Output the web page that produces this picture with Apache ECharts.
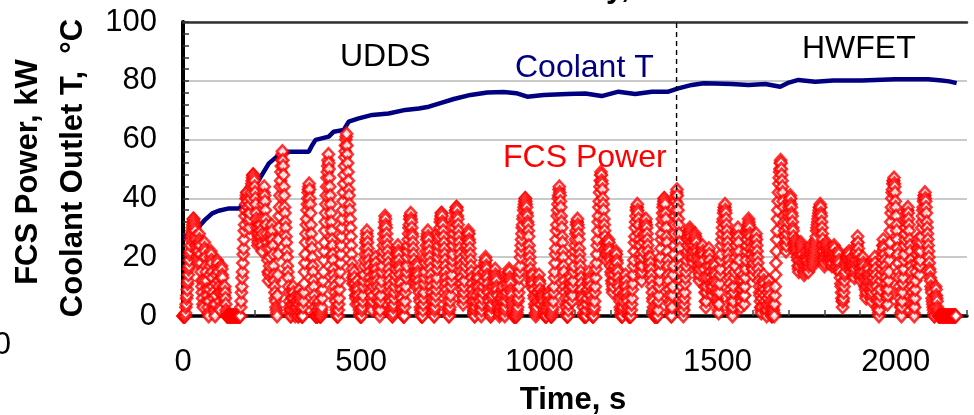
<!DOCTYPE html>
<html>
<head>
<meta charset="utf-8">
<title>FCS Power and Coolant Outlet Temperature</title>
<script src="https://cdn.jsdelivr.net/npm/echarts@6/dist/echarts.min.js"></script>
<style>
  html, body { margin: 0; padding: 0; background: #ffffff; }
  #chart { width: 974px; height: 415px; }
</style>
</head>
<body>
<div id="chart"></div>
<script>
// Fuel-cell system power (kW), one sample per second from t = 0 (60 s per row)
const powerStepSeconds = 1;
const powerKW = [
  0,0,0,0,0,0,0,1,3,4,6,7,9,11,12,14,16,17,19,21,22,24,26,27,28,29,30,31,32,33,33,32,31,30,29,27,26,24,23,22,20,19,18,22,25,28,26,25,24,21,18,15,12,10,8,6,4,3,12,20,
  25,23,22,20,17,15,12,9,7,5,3,1,0,5,9,14,17,20,22,21,19,18,15,13,10,8,6,4,2,1,0,4,7,11,14,17,19,18,16,15,12,10,8,5,3,2,8,13,17,16,14,13,10,8,6,7,9,10,8,6,
  4,2,1,0,0,0,0,0,0,0,0,0,0,0,0,0,0,0,0,0,0,0,0,0,0,0,0,0,0,0,0,0,0,0,0,0,0,0,0,0,0,0,3,5,8,10,13,15,18,21,23,26,29,31,34,36,38,40,41,42,
  42,40,39,37,35,32,30,33,35,38,40,42,44,45,46,47,48,48,48,47,46,44,42,40,38,35,33,30,28,26,24,25,27,28,30,31,33,31,29,27,25,24,22,28,33,38,40,42,44,41,39,36,33,31,28,26,25,23,19,15,
  12,14,15,17,20,23,26,28,30,31,29,26,24,21,17,14,12,10,8,6,5,3,2,1,0,7,14,21,26,30,34,37,41,44,46,49,51,53,55,56,53,51,48,44,41,37,35,32,30,27,25,22,20,17,15,13,10,8,5,3,
  2,1,0,0,2,4,6,8,9,10,8,6,4,2,1,0,3,5,7,5,4,3,1,0,0,4,7,9,7,6,5,3,1,0,0,0,0,3,5,8,11,15,18,21,25,28,31,33,36,38,40,42,43,44,45,43,40,38,35,31,
  28,25,23,20,17,15,12,10,7,5,3,1,0,0,0,0,0,0,0,2,4,5,3,1,0,0,0,0,1,2,3,6,9,12,15,19,22,25,29,32,35,38,41,44,47,49,51,53,55,52,50,47,44,41,38,35,32,29,26,24,
  21,19,16,14,12,10,8,6,5,3,2,1,0,0,0,0,2,4,6,9,12,15,18,21,24,27,30,33,36,39,42,45,48,51,54,56,58,60,61,62,58,55,52,49,46,43,41,38,36,33,30,27,24,21,18,16,13,11,12,14,
  15,13,11,9,7,6,4,7,9,12,10,9,7,5,4,2,1,0,0,0,0,0,2,3,5,7,10,12,14,17,19,21,23,25,26,28,29,27,25,23,21,19,17,15,13,11,9,8,6,4,3,2,5,7,10,12,14,16,17,19,
  20,18,16,14,12,10,8,6,5,3,2,1,0,2,5,7,10,12,15,17,20,22,24,26,28,30,32,34,33,31,30,28,26,24,22,20,18,16,14,12,10,8,6,5,3,2,1,0,0,1,3,4,6,8,10,12,14,16,18,19,
  21,22,23,24,22,21,19,17,16,14,12,11,9,7,6,4,3,1,0,0,0,0,3,5,8,10,13,15,17,20,22,24,26,28,30,31,33,34,34,35,33,32,30,28,27,25,23,21,19,17,15,13,12,11,10,13,15,18,17,15,
  14,12,10,8,6,5,3,2,1,0,0,0,0,2,4,6,8,11,13,15,18,20,22,24,26,27,28,29,27,26,24,22,20,18,16,14,12,10,8,6,5,3,2,1,0,0,2,3,5,7,9,11,13,16,18,20,22,24,26,27,
  29,30,32,33,34,35,35,34,32,31,29,27,25,23,21,19,17,15,13,11,9,7,5,3,2,1,0,0,2,3,5,7,10,12,14,17,19,21,24,26,28,30,32,33,35,36,36,37,37,36,34,33,31,29,27,25,23,21,19,17,
  15,13,11,9,7,5,4,6,8,10,12,15,17,19,21,23,24,26,27,28,28,29,28,26,25,23,21,19,17,15,13,11,9,7,5,3,2,1,0,0,2,3,5,7,10,12,13,14,15,13,10,8,6,5,3,2,1,0,2,4,
  6,8,10,12,14,15,17,18,19,20,19,17,16,14,13,11,9,8,6,5,3,2,1,0,0,1,3,4,6,7,9,10,12,13,14,15,16,14,13,12,10,9,7,5,4,3,2,1,0,1,1,2,3,5,6,8,9,10,7,5,
  3,2,1,0,2,3,5,7,8,10,11,13,14,15,15,16,15,13,12,11,9,8,7,5,4,3,2,1,0,0,0,0,0,0,0,0,0,1,2,3,5,6,8,10,13,15,17,20,22,24,26,28,30,31,33,34,36,37,38,39,
  40,40,39,38,37,35,34,32,31,29,27,24,22,20,18,16,14,12,10,11,13,14,12,11,9,7,6,4,3,1,0,1,2,3,5,6,8,10,12,14,12,11,9,7,6,4,6,7,8,7,7,6,5,3,2,1,0,0,0,0,
  0,2,3,5,6,7,8,7,5,4,3,1,0,0,0,0,1,2,3,5,8,10,13,15,18,21,23,26,29,31,34,36,38,40,41,43,44,42,41,39,37,34,32,30,27,25,22,20,17,15,12,10,8,6,4,3,1,0,0,0,
  0,2,4,6,9,11,14,13,11,10,8,7,5,7,10,12,15,17,20,22,24,26,28,29,31,32,32,33,31,30,28,26,23,21,19,17,15,13,11,9,7,6,4,3,1,0,0,0,0,0,0,0,2,4,6,8,9,11,12,14,
  15,13,12,10,8,7,5,3,1,0,0,0,0,2,3,5,8,10,13,16,18,21,24,26,29,32,34,37,39,42,44,46,48,49,48,46,45,43,40,38,36,33,31,29,27,25,23,21,19,21,22,24,25,25,26,25,23,22,20,19,
  17,15,14,12,11,9,8,10,12,14,16,17,19,20,21,22,21,19,18,16,15,13,11,10,8,6,5,3,2,1,0,0,0,0,2,3,5,7,8,10,11,13,14,12,10,8,6,5,3,2,1,0,0,0,0,0,0,0,2,4,
  6,9,11,14,17,19,22,25,27,30,32,34,36,37,37,38,36,35,33,31,28,26,24,21,19,17,14,12,15,17,20,22,25,27,28,30,31,32,32,33,31,30,28,26,24,22,20,18,16,17,19,20,18,16,14,12,10,8,6,5,
  3,2,1,0,0,0,0,0,0,0,0,0,0,2,5,7,10,12,15,18,20,23,26,28,31,33,35,37,38,39,40,40,39,38,35,33,30,27,25,22,19,17,14,12,9,7,5,4,2,1,0,0,3,7,10,14,17,21,24,28,
  31,34,36,39,41,42,43,41,38,36,33,31,28,25,23,20,17,15,12,10,7,5,3,2,0,2,4,6,8,11,13,15,17,19,21,22,24,26,27,28,29,29,30,29,28,27,25,24,22,21,19,18,20,22,24,26,27,28,27,26,
  25,23,22,20,19,17,16,15,13,12,14,16,18,19,21,22,23,23,24,22,21,19,16,13,10,8,5,3,5,8,10,13,17,20,21,22,23,21,19,17,15,13,11,10,8,7,9,10,12,14,16,18,17,15,14,12,11,9,8,6,
  5,4,2,1,4,8,11,14,16,19,21,24,26,28,30,32,33,35,36,37,37,38,36,35,33,31,29,27,25,23,21,19,17,15,13,11,9,7,5,3,2,1,0,3,5,8,10,13,15,17,20,22,24,26,28,29,29,30,27,25,
  22,19,15,12,9,6,3,5,7,9,11,12,14,10,7,4,7,10,13,16,19,22,24,26,28,30,31,33,32,31,30,28,27,25,23,21,19,17,16,14,16,18,20,22,23,25,26,27,28,26,24,22,20,18,16,14,12,10,8,7,
  5,3,2,1,3,6,8,10,12,14,12,11,9,7,5,3,2,1,0,2,4,6,8,10,12,10,9,7,5,4,2,1,0,0,1,3,4,2,1,0,4,7,10,14,18,22,26,29,33,36,39,42,45,47,49,50,52,53,52,50,
  48,46,44,42,39,37,34,32,29,27,25,24,22,24,26,28,30,32,34,35,37,38,39,40,41,40,38,37,35,34,32,30,29,27,25,24,22,23,25,26,25,24,23,22,20,19,17,16,15,17,19,21,22,24,25,24,23,22,21,19,
  18,17,15,14,15,16,17,19,20,22,21,20,19,17,16,15,17,18,20,21,23,24,23,22,21,20,18,17,18,19,20,21,22,23,24,25,26,27,29,30,31,32,33,34,35,36,37,37,38,37,35,34,32,30,28,26,24,22,20,19,
  17,18,20,21,23,24,25,24,23,22,21,19,18,20,21,23,22,21,20,19,18,17,18,20,21,22,23,24,23,21,20,19,17,16,17,18,19,20,21,22,21,19,18,16,15,13,11,10,8,6,5,3,5,6,8,10,12,14,15,17,
  18,19,20,21,20,20,19,20,21,22,21,19,18,17,16,15,17,18,20,19,18,17,16,14,13,15,16,18,19,21,22,24,25,27,25,23,21,19,18,16,15,13,12,14,15,17,18,19,20,18,17,15,13,12,10,9,7,6,8,10,
  12,14,15,17,16,14,13,12,10,9,8,6,5,7,8,10,12,13,15,17,18,20,18,16,14,12,10,8,6,5,3,2,1,0,2,5,7,9,12,14,16,18,20,22,24,26,24,23,21,19,17,15,13,11,9,7,6,4,7,9,
  12,15,19,22,25,29,32,35,37,40,42,43,45,46,46,47,45,44,42,39,37,34,31,29,26,23,21,18,15,13,10,8,6,4,3,1,0,3,5,8,11,13,16,19,21,24,26,28,30,32,33,35,36,36,37,35,33,31,29,26,
  24,22,19,17,15,12,10,8,6,4,3,1,0,3,6,9,12,15,18,21,23,26,25,23,22,19,17,14,17,19,22,25,27,30,32,34,36,37,39,40,41,41,42,40,39,37,35,32,30,28,26,24,22,20,18,16,15,13,12,10,
  9,8,6,5,4,3,2,1,0,0,3,7,10,9,7,6,5,3,2,1,0,0,0,0,0,0,0,0,0,0,0,0,0,0,0,0,0,0,0,0,0,0,0,0,0,0,0,0,0,0,0,0,0,0,0,0,0,0,0,0,
  0,0,0,0,0,0,0,0,0,0
];

// Coolant outlet temperature (°C) against time (s)
const coolantTime = [0,10,25,45,60,82,100,129,157,170,190,213,241,269,297,353,362,372,409,423,
  451,465,493,531,577,624,662,690,727,760,807,854,900,935,966,1012,1078,1129,1175,1222,
  1269,1316,1362,1390,1428,1461,1493,1540,1587,1634,1676,1700,1727,1774,1825,1905,1998,2091,2129,2150,2171];
const coolantTemp = [26.4,27,29,30.4,32.5,34.9,35.8,36.6,36.6,38,42.5,46.3,51.9,54.8,55.9,55.9,58,59.9,61,62.7,
  63.3,66.1,67.2,68.4,68.9,70.1,70.6,71.2,72.6,73.8,75.2,76,76.2,75.8,74.6,75.2,75.5,75.7,74.8,76.3,
  75.5,76.3,76.3,77.4,78.6,79.2,79.1,78.9,78.6,78.9,78,79.4,80.3,79.7,80.1,80.1,80.5,80.5,80.1,79.8,79.2];

// Time where the UDDS cycle ends and the HWFET cycle begins
const cycleBoundary = 1385;

// Axis ranges and labelled ticks
const timeMax = 2200;
const timeLabelStep = 500;
const timeMinorStep = 100;
const valueMax = 100;
const valueLabelStep = 20;

const powerData = powerKW.map((v, i) => [i * powerStepSeconds, v]);
const coolantData = coolantTime.map((t, i) => [t, coolantTemp[i]]);
const boundaryData = [[cycleBoundary, 0], [cycleBoundary, valueMax]];

const FONT = "'Liberation Sans', Arial, Helvetica, sans-serif";

const chart = echarts.init(document.getElementById('chart'), null, { renderer: 'canvas' });

chart.setOption({
  animation: false,
  backgroundColor: '#ffffff',
  grid: { left: 183, right: 7, top: 22, bottom: 99, containLabel: false },
  xAxis: [
    {
      type: 'value', position: 'bottom', min: 0, max: timeMax, interval: timeLabelStep,
      axisLine: { show: true, lineStyle: { color: '#000', width: 3.5 } },
      axisTick: { show: false },
      splitLine: { show: false },
      axisLabel: {
        margin: 31, color: '#000', fontSize: 31, fontFamily: FONT,
        formatter: v => (v % timeLabelStep === 0 ? String(v) : '')
      }
    },
    {
      type: 'value', position: 'bottom', min: 0, max: timeMax, interval: timeMinorStep,
      axisLine: { show: false },
      axisTick: { show: true, inside: true, length: 6, lineStyle: { color: '#444', width: 1.5 } },
      axisLabel: { show: false },
      splitLine: { show: false }
    },
    {
      type: 'value', position: 'top', min: 0, max: timeMax,
      axisLine: { show: true, lineStyle: { color: '#333', width: 2.5 } },
      axisTick: { show: false }, axisLabel: { show: false }, splitLine: { show: false }
    }
  ],
  yAxis: [
    {
      type: 'value', position: 'left', min: 0, max: valueMax, interval: valueLabelStep,
      axisLine: { show: true, lineStyle: { color: '#000', width: 3 } },
      axisTick: { show: true, inside: true, length: 6, lineStyle: { color: '#333', width: 1.5 } },
      minorTick: { show: true, splitNumber: 5, length: 6, lineStyle: { color: '#333', width: 1.5 } },
      splitLine: { show: true, lineStyle: { color: '#b8b8b8', width: 1.5 } },
      axisLabel: { margin: 26, color: '#000', fontSize: 31, fontFamily: FONT }
    },
    {
      type: 'value', position: 'right', min: 0, max: valueMax,
      axisLine: { show: true, lineStyle: { color: '#000', width: 4 } },
      axisTick: { show: false }, axisLabel: { show: false }, splitLine: { show: false }
    }
  ],
  series: [
    {
      name: 'Coolant T', type: 'line', xAxisIndex: 0, yAxisIndex: 0,
      data: coolantData, showSymbol: false, smooth: false, z: 2,
      lineStyle: { color: '#000080', width: 4.5 }
    },
    {
      name: 'FCS Power', type: 'scatter', xAxisIndex: 0, yAxisIndex: 0,
      data: powerData, symbol: 'diamond', symbolSize: [11, 12], clip: false, z: 3,
      itemStyle: { color: '#ffffff', borderColor: '#ff0000', borderWidth: 2.6 }
    },
    {
      name: 'Cycle boundary', type: 'line', xAxisIndex: 0, yAxisIndex: 0,
      data: boundaryData, showSymbol: false, z: 5,
      lineStyle: { color: '#000', width: 1.4, type: [5, 4] }
    }
  ],
  graphic: [
    { type: 'text', x: 340, y: 57, z: 10,
      style: { text: 'UDDS', font: '32px ' + FONT, fill: '#000', align: 'left', verticalAlign: 'middle' } },
    { type: 'text', x: 802, y: 49, z: 10,
      style: { text: 'HWFET', font: '32px ' + FONT, fill: '#000', align: 'left', verticalAlign: 'middle' } },
    { type: 'text', x: 515, y: 68, z: 10,
      style: { text: 'Coolant T', font: '32px ' + FONT, fill: '#000080', align: 'left', verticalAlign: 'middle' } },
    { type: 'text', x: 503, y: 158, z: 10,
      style: { text: 'FCS Power', font: '32px ' + FONT, fill: '#ff0000', align: 'left', verticalAlign: 'middle' } },
    { type: 'text', x: 573, y: 400, z: 10,
      style: { text: 'Time, s', font: 'bold 31px ' + FONT, fill: '#000', align: 'center', verticalAlign: 'middle' } },
    { type: 'text', x: 28.5, y: 172, rotation: Math.PI / 2, z: 10,
      style: { text: 'FCS Power, kW', font: 'bold 31px ' + FONT, fill: '#000', align: 'center', verticalAlign: 'middle' } },
    { type: 'text', x: 73, y: 168, rotation: Math.PI / 2, z: 10,
      style: { text: 'Coolant Outlet T,  °C', font: 'bold 31px ' + FONT, fill: '#000', align: 'center', verticalAlign: 'middle' } },
    { type: 'text', x: 11, y: 345, z: 10,
      style: { text: '0', font: '31px ' + FONT, fill: '#000', align: 'right', verticalAlign: 'middle' } },
    { type: 'text', x: 606, y: 4, z: 10,
      style: { text: 'y,', font: 'bold 31px ' + FONT, fill: '#000', align: 'left', verticalAlign: 'bottom' } }
  ]
});
</script>
</body>
</html>
